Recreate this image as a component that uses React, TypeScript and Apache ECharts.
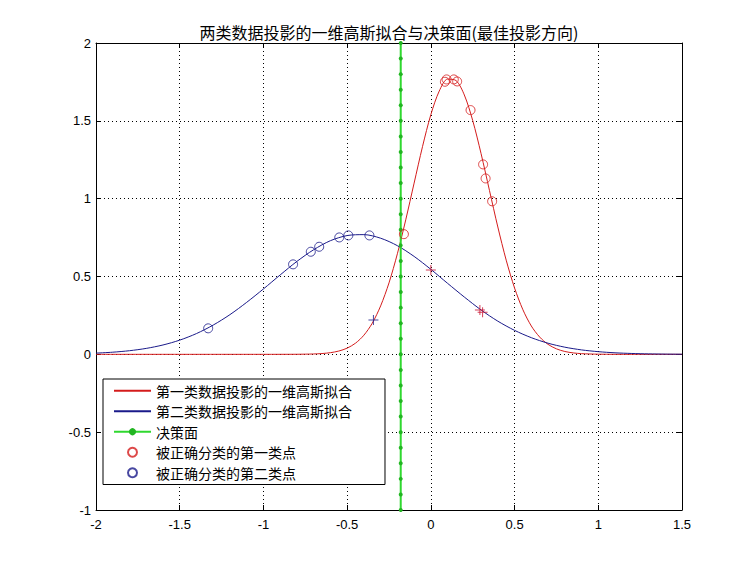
import React, { useEffect, useRef } from "react";
import * as echarts from "echarts";

const TITLE = "两类数据投影的一维高斯拟合与决策面(最佳投影方向)";
const NAME_RED = "第一类数据投影的一维高斯拟合";
const NAME_BLUE = "第二类数据投影的一维高斯拟合";
const NAME_DECISION = "决策面";
const NAME_RED_PTS = "被正确分类的第一类点";
const NAME_BLUE_PTS = "被正确分类的第二类点";

// Class-2 (blue) fitted gaussian
const blueX = [-2.0, -1.9, -1.8, -1.7, -1.6, -1.5, -1.4, -1.3, -1.2, -1.1, -1.0, -0.9, -0.8, -0.7, -0.6, -0.5, -0.4, -0.3, -0.2, -0.1, 0.0, 0.1, 0.2, 0.3, 0.4, 0.5, 0.6, 0.7, 0.8, 0.9, 1.0, 1.1, 1.2, 1.3, 1.4, 1.5];
const blueY = [0.0078, 0.0137, 0.0233, 0.0381, 0.0601, 0.0912, 0.1334, 0.188, 0.255, 0.334, 0.42, 0.51, 0.597, 0.672, 0.73, 0.763, 0.769, 0.746, 0.698, 0.629, 0.546, 0.456, 0.368, 0.285, 0.213, 0.154, 0.107, 0.0714, 0.046, 0.0285, 0.0171, 0.0098, 0.0055, 0.0029, 0.0015, 0.0007];

// Class-1 (red) fitted gaussian
const redX = [-2.0, -1.5, -1.0, -0.8, -0.7, -0.65, -0.6, -0.55, -0.5, -0.45, -0.4, -0.35, -0.3, -0.25, -0.2, -0.15, -0.1, -0.05, 0.0, 0.05, 0.1, 0.15, 0.2, 0.25, 0.3, 0.35, 0.4, 0.45, 0.5, 0.55, 0.6, 0.65, 0.7, 0.75, 0.8, 0.85, 0.9, 1.0, 1.2, 1.5];
const redY = [0, 0, 0, 0.0004, 0.0023, 0.0051, 0.0106, 0.0211, 0.0398, 0.0717, 0.1228, 0.2, 0.311, 0.459, 0.646, 0.864, 1.1, 1.334, 1.54, 1.691, 1.768, 1.759, 1.666, 1.502, 1.289, 1.053, 0.818, 0.605, 0.426, 0.286, 0.182, 0.111, 0.064, 0.0352, 0.0184, 0.0092, 0.0044, 0.0009, 0, 0];

// Decision surface
const decisionX = -0.18;
const decisionY = [-1.0, -0.9, -0.8, -0.7, -0.6, -0.5, -0.4, -0.3, -0.2, -0.1, 0.0, 0.1, 0.2, 0.3, 0.4, 0.5, 0.6, 0.7, 0.8, 0.9, 1.0, 1.1, 1.2, 1.3, 1.4, 1.5, 1.6, 1.7, 1.8, 1.9, 2.0];

// Correctly classified points
const redPtsX = [0.084, 0.094, 0.137, 0.157, 0.237, 0.312, 0.327, 0.366, -0.161];
const redPtsY = [1.751, 1.766, 1.766, 1.753, 1.569, 1.22, 1.13, 0.983, 0.772];
const bluePtsX = [-1.33, -0.823, -0.717, -0.667, -0.547, -0.493, -0.367];
const bluePtsY = [0.167, 0.578, 0.659, 0.691, 0.751, 0.764, 0.764];

// Misclassified points (+)
const missRedX = [0.0, 0.293, 0.309];
const missRedY = [0.542, 0.284, 0.271];
const missBlueX = [-0.343];
const missBlueY = [0.221];

const xTicks = { min: -2, max: 1.5, interval: 0.5 };
const yTicks = { min: -1, max: 2, interval: 0.5 };

const RED = "#d41c1c";
const BLUE = "#1a1a8a";
const GREEN = "#2fd82f";
const CJK = "'Noto Sans CJK SC', sans-serif";
const NUM = "'Liberation Sans', Arial, sans-serif";
const PLUS = "path://M0 4.5H10V5.5H0Z M4.5 0H5.5V10H4.5Z";
const CLEAR = "rgba(0,0,0,0)";

const zip = (xs: number[], ys: number[]) => xs.map((x, i) => [x, ys[i]]);

export default function App() {
  const ref = useRef<HTMLDivElement>(null);
  useEffect(() => {
    if (!ref.current) return;
    const chart = echarts.init(ref.current, undefined, { renderer: "svg" });
    const gridL = 96, gridT = 43, gridW = 586, gridH = 467;
    const axisCommon = {
      type: "value" as const,
      axisLine: { show: true, onZero: false, lineStyle: { color: "#000", width: 1 } },
      axisTick: { show: true, inside: true, length: 5, lineStyle: { color: "#000" } },
    };
    chart.setOption({
      animation: false,
      backgroundColor: "#fff",
      grid: { left: gridL, top: gridT, width: gridW, height: gridH, show: false },
      graphic: [
        {
          type: "text",
          x: gridL + gridW / 2,
          y: 32,
          style: {
            text: TITLE,
            textAlign: "center",
            textVerticalAlign: "middle",
            fontSize: 16,
            fontFamily: CJK,
            fill: "#000",
          },
        },
      ],
      xAxis: [
        {
          ...axisCommon,
          position: "bottom",
          min: xTicks.min,
          max: xTicks.max,
          interval: xTicks.interval,
          axisLabel: { show: true, margin: 8, color: "#000", fontSize: 13, fontFamily: NUM },
          splitLine: { show: true, lineStyle: { color: "#000", type: [1, 3], width: 1 } },
        },
        {
          ...axisCommon,
          position: "top",
          min: xTicks.min,
          max: xTicks.max,
          interval: xTicks.interval,
          axisLabel: { show: false },
          splitLine: { show: false },
        },
      ],
      yAxis: [
        {
          ...axisCommon,
          position: "left",
          min: yTicks.min,
          max: yTicks.max,
          interval: yTicks.interval,
          axisLabel: { show: true, margin: 5, color: "#000", fontSize: 13, fontFamily: NUM },
          splitLine: { show: true, lineStyle: { color: "#000", type: [1, 3], width: 1 } },
        },
        {
          ...axisCommon,
          position: "right",
          min: yTicks.min,
          max: yTicks.max,
          interval: yTicks.interval,
          axisLabel: { show: false },
          splitLine: { show: false },
        },
      ],
      legend: {
        data: [
          { name: NAME_RED, itemStyle: { color: CLEAR, borderColor: CLEAR } },
          { name: NAME_BLUE, itemStyle: { color: CLEAR, borderColor: CLEAR } },
          NAME_DECISION,
          NAME_RED_PTS,
          NAME_BLUE_PTS,
        ],
        orient: "vertical",
        left: 103,
        top: 379,
        padding: [1.5, 33, 1.5, 10],
        itemWidth: 37,
        itemHeight: 9,
        itemGap: 0,
        backgroundColor: "#fff",
        borderColor: "#000",
        borderWidth: 1,
        selectedMode: false,
        textStyle: { fontSize: 14, lineHeight: 20.5, fontFamily: CJK, color: "#000" },
      },
      series: [
        {
          name: NAME_RED,
          type: "line",
          data: zip(redX, redY),
          symbol: "none",
          smooth: 0.3,
          lineStyle: { color: RED, width: 1 },
          itemStyle: { color: RED },
          z: 2,
        },
        {
          name: NAME_BLUE,
          type: "line",
          data: zip(blueX, blueY),
          symbol: "none",
          smooth: 0.3,
          lineStyle: { color: BLUE, width: 1 },
          itemStyle: { color: BLUE },
          z: 2,
        },
        {
          name: NAME_DECISION,
          type: "line",
          data: decisionY.map((y) => [decisionX, y]),
          symbol: "circle",
          symbolSize: 4,
          showSymbol: true,
          lineStyle: { color: GREEN, width: 2 },
          itemStyle: { color: "#22b522" },
          z: 3,
        },
        {
          name: NAME_RED_PTS,
          type: "scatter",
          data: zip(redPtsX, redPtsY),
          symbol: "circle",
          symbolSize: 9,
          itemStyle: { color: CLEAR, borderColor: RED, borderWidth: 1 },
          z: 4,
        },
        {
          name: NAME_BLUE_PTS,
          type: "scatter",
          data: zip(bluePtsX, bluePtsY),
          symbol: "circle",
          symbolSize: 9,
          itemStyle: { color: CLEAR, borderColor: BLUE, borderWidth: 1 },
          z: 4,
        },
        {
          name: "missRed",
          type: "scatter",
          data: zip(missRedX, missRedY),
          symbol: PLUS,
          symbolSize: 10,
          itemStyle: { color: "#c8102e" },
          z: 4,
        },
        {
          name: "missBlue",
          type: "scatter",
          data: zip(missBlueX, missBlueY),
          symbol: PLUS,
          symbolSize: 10,
          itemStyle: { color: BLUE },
          z: 4,
        },
      ],
    });
    return () => chart.dispose();
  }, []);
  return (
    <div
      ref={ref}
      style={{ position: "fixed", left: 0, top: 0, width: 754, height: 574, background: "#fff" }}
    />
  );
}
